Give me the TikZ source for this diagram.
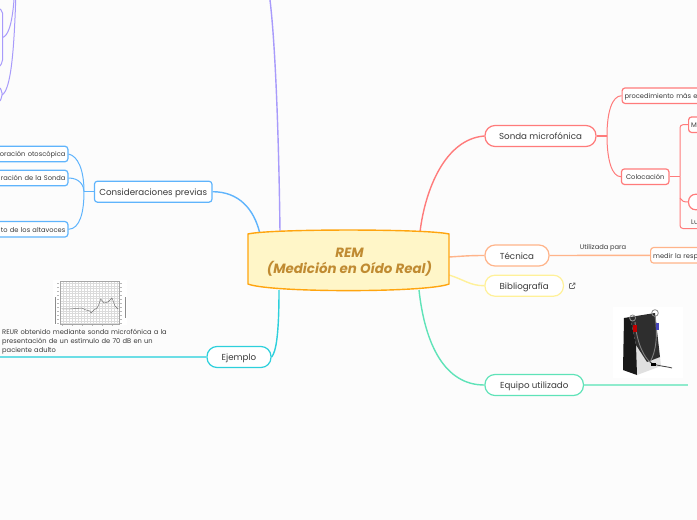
\documentclass[tikz,border=0pt]{standalone}
\usepackage{fontspec}
\setmainfont{Poppins}
\usetikzlibrary{calc}
\definecolor{cred}{HTML}{FF7B7B}
\definecolor{cblue}{HTML}{5FB4FC}
\definecolor{cpurp}{HTML}{A89BFB}
\definecolor{cteal}{HTML}{2DD0DC}
\definecolor{cgreen}{HTML}{5FE3B8}
\definecolor{corange}{HTML}{FFB48A}
\definecolor{cyell}{HTML}{FFF199}
\definecolor{ctext}{HTML}{3A3A3A}
\definecolor{cfill}{HTML}{FFF6C8}
\definecolor{cbord}{HTML}{FFA50F}
\definecolor{cgold}{HTML}{C08B32}
\tikzset{
 main/.style={draw=#1,line width=1.2pt,rounded corners=10pt,fill=white,minimum height=21pt,inner sep=0pt,align=center,font=\fontsize{8.7}{10}\selectfont,text=ctext,text height=8pt,text depth=1pt},
 lvl/.style={draw=#1,line width=1.2pt,rounded corners=3pt,fill=white,minimum height=15.5pt,inner sep=0pt,font=\fontsize{6.7}{8}\selectfont,text=ctext,text height=6pt,text depth=.5pt},
 conn/.style={draw=#1,line width=1.4pt},
 thin conn/.style={draw=#1,line width=1pt},
 lbl/.style={inner sep=0pt,font=\fontsize{6.7}{8}\selectfont,text=ctext},
}
\begin{document}
\begin{tikzpicture}[x=1pt,y=-1pt]
\useasboundingbox (0,0) rectangle (697,520);
\clip (0,0) rectangle (697,520);
\fill[white!99!black] (0,0) rectangle (697,520);
% named anchors
\coordinate (cTL) at (260,234);
\coordinate (cPur) at (280,232);
\coordinate (cBot) at (279,290);
\coordinate (cR) at (420,232);
\coordinate (cRb) at (419,290);
\coordinate (cTec) at (449,257);
\coordinate (cBib) at (449,275);
\coordinate (purTop) at (270,0);
\coordinate (ejEnd) at (0,357);
\coordinate (eqEnd) at (688,385);
% nodes
\node[main=cblue,rounded corners=3pt,minimum width=117.5pt] (cons) at (153.2,191.7) {Consideraciones previas};
\node[lvl=cblue,anchor=east,minimum width=120pt,text width=115pt,align=right] (expl) at (68.5,154) {oración otoscópica};
\node[lvl=cblue,anchor=east,minimum width=120pt,text width=115pt,align=right] (cali) at (68.5,178) {ración de la Sonda};
\node[lvl=cblue,anchor=east,minimum width=120pt,text width=115pt,align=right] (alta) at (68.5,229.3) {to de los altavoces};
\node[main=cteal,minimum width=64pt] (ejem) at (239,357) {Ejemplo};
\node[main=cred,minimum width=111pt] (sonda) at (540.5,136) {Sonda microfónica};
\node[main=corange,minimum width=64pt] (tec) at (517,255.5) {Técnica};
\node[main=cyell,minimum width=78.5pt] (bib) at (524.2,285.7) {Bibliografía};
\node[main=cgreen,minimum width=98.5pt] (equ) at (534.2,385) {Equipo utilizado};
\node[lvl=cred,anchor=west,minimum width=120pt,text width=115pt,align=left] (proc) at (621.5,95.7) {procedimiento más e};
\node[lvl=cred,minimum width=47.5pt] (colo) at (645.2,176.7) {Colocación};
\node[lvl=cred,anchor=west,minimum width=40pt,text width=35pt,align=left] (mbox) at (688,124.7) {M};
\node[lvl=cred,anchor=west,minimum width=40pt,rounded corners=7pt] (lbox) at (688,202) {};
\node[lvl=corange,anchor=west,minimum width=70pt,text width=65pt,align=left] (medir) at (650,255.3) {medir la resp};
\node[lbl,anchor=west] (lu) at (691,222) {Lu};
\node[lbl] (util) at (603,248) {Utilizada para};
\node[lbl,anchor=north west,align=left,text width=175pt,font=\fontsize{6.7}{9}\selectfont] (reur) at (2,329) {REUR obtenido mediante sonda microfónica a la\\presentación de un estímulo de 70 dB en un\\paciente adulto};
% connectors
\draw[conn=cpurp] (cPur) .. controls (279,150) and (276,50) .. (purTop);
\draw[conn=cblue] (cons.east) .. controls (238,191.7) and (254,208) .. (cTL);
\draw[conn=cteal] (ejem.east) .. controls (276,352) and (279,335) .. (cBot);
\draw[draw=cteal!70,line width=1.8pt] (ejem.west) -- (ejEnd);
\draw[conn=cred] (cR) .. controls (425,190) and (445,139) .. (sonda.west);
\draw[conn=corange] (cTec) .. controls (465,256) and (470,255.5) .. (tec.west);
\draw[conn=cyell] (cBib) .. controls (465,280) and (470,285.7) .. (bib.west);
\draw[conn=cgreen] (cRb) .. controls (425,345) and (445,385) .. (equ.west);
\draw[draw=cgreen!70,line width=1.8pt] (equ.east) -- (eqEnd);
\draw[conn=corange] (tec.east) -- (medir.west);
% Consideraciones tree
\coordinate (bt) at (84,191.7);
\draw[conn=cblue] (cons.west) -- (bt);
\draw[thin conn=cblue] (bt) .. controls (84,170) and (78,156) .. (expl.east);
\draw[thin conn=cblue] (bt) .. controls (84,186) and (80,178) .. (cali.east);
\draw[thin conn=cblue] (bt) .. controls (84,212) and (80,229) .. (alta.east);
% Sonda tree
\coordinate (st) at (607,136);
\draw[conn=cred] (sonda.east) -- (st);
\draw[thin conn=cred] (st) .. controls (607,112) and (612,96) .. (proc.west);
\draw[thin conn=cred] (st) .. controls (607,160) and (612,176.7) .. (colo.west);
% Colocacion tree
\coordinate (ct) at (680,176.7);
\coordinate (lend) at (697,228.5);
\draw[conn=cred] (colo.east) -- (ct);
\draw[thin conn=cred,rounded corners=3pt] (ct) |- (mbox.west);
\draw[thin conn=cred] (680,198) .. controls (681,201) and (684,202) .. (lbox.west);
\draw[thin conn=cred,rounded corners=3pt] (ct) |- (lend);
% top-left purple branches
\coordinate (pa) at (15.7,0);
\coordinate (pb) at (2,95);
\coordinate (pd) at (0,66);
\coordinate (pe) at (2.5,37.5);
\coordinate (pf) at (14,0);
\draw[thin conn=cpurp] (pa) .. controls (14,50) and (11,90) .. (pb);
\draw[thin conn=cpurp,rounded corners=2pt] (0,9) -- (2.5,11) -- (2.5,62) -- (pd);
\draw[thin conn=cpurp] (pe) .. controls (8,36) and (12,25) .. (pf);
\draw[thin conn=cpurp,rounded corners=2pt] (0,88) -- (2,91) -- (2,97) -- (0,101);
% link icon
\coordinate (link) at (572,286);
\draw[black!60,line width=.6pt,rounded corners=.5pt] (571.5,283.5) -- (569.5,283.5) -- (569.5,288.5) -- (574.5,288.5) -- (574.5,286.5);
\draw[black!60,line width=.6pt] (571.8,286.2) -- (575,283) (573,283) -- (575,283) -- (575,285);
% chart
\begin{scope}[line width=.25pt]
\fill[white] (53,280) rectangle (127,325);
\foreach \gx in {60,63,...,119}{\draw[black!14] (\gx,281) -- (\gx,324);}
\foreach \gy in {281,283.5,...,324}{\draw[black!14] (60,\gy) -- (119,\gy);}
\draw[black!35,line width=.4pt] (60,281) rectangle (119,324);
\draw[black!55,line width=.45pt] (62,309) -- (70,309) -- (76,308.5) -- (82,308) -- (86,310) -- (90,311) -- (91,313) -- (94,310) -- (97,308) -- (99,304) -- (100.7,299) -- (104,303) -- (108,302) -- (112,298) -- (115,306) -- (118,309);
\draw[black!45,line width=.4pt] (55,297) -- (55,324) (125,297) -- (125,318);
\foreach \ty in {283,287,...,323}{\draw[black!28,line width=.5pt] (57,\ty) -- (59,\ty) (120,\ty) -- (122,\ty);}
\foreach \tx in {62,72,...,118}{\draw[black!28,line width=.5pt] (\tx,325) -- (\tx,326);}
\end{scope}
% device
\fill[white] (613,307) rectangle (683,378);
\fill[black!12] (630,317) -- (636,345) -- (647,362) -- (660,357) -- (661,366) -- (637,375) -- cycle;
\fill[black!82] (630,317) -- (655,313) -- (660,357) -- (647,362) -- (636,345) -- cycle;
\fill[black!90] (624,318) -- (630,317) -- (636,345) -- (637,375) -- (623,370) -- cycle;
\draw[black!45,line width=.8pt] (632.6,318) circle (3);
\draw[black!45,line width=.8pt] (655,313) circle (3.3);
\draw[black!50,line width=.9pt] (635,322) .. controls (637,345) and (645,358) .. (650,362) .. controls (656,352) and (658,335) .. (655,316);
\fill[red!75!black] (633,325) rectangle (637,332);
\fill[blue!45!gray] (656,323) rectangle (659,330);
\draw[black!75,line width=.8pt] (650,362) .. controls (655,366) and (665,366) .. (672,368);
\fill[black] (651,363) rectangle (656,366);
% central
\coordinate (remNW) at (248,234);
\coordinate (remNE) at (449,234);
\coordinate (remSE) at (449,284);
\coordinate (remSW) at (248,284);
\draw[draw=cbord,line width=1.4pt,fill=cfill] (remNW) .. controls (270,228.7) and (427,228.7) .. (remNE) -- (remSE) .. controls (427,292.8) and (270,292.8) .. (remSW) -- cycle;
\node[font=\fontsize{13.4}{16}\selectfont\bfseries\itshape,text=cgold,align=center,inner sep=0pt] (remt) at (349.5,261.7) {REM\\(Medición en Oído Real)};
\end{tikzpicture}
\end{document}
